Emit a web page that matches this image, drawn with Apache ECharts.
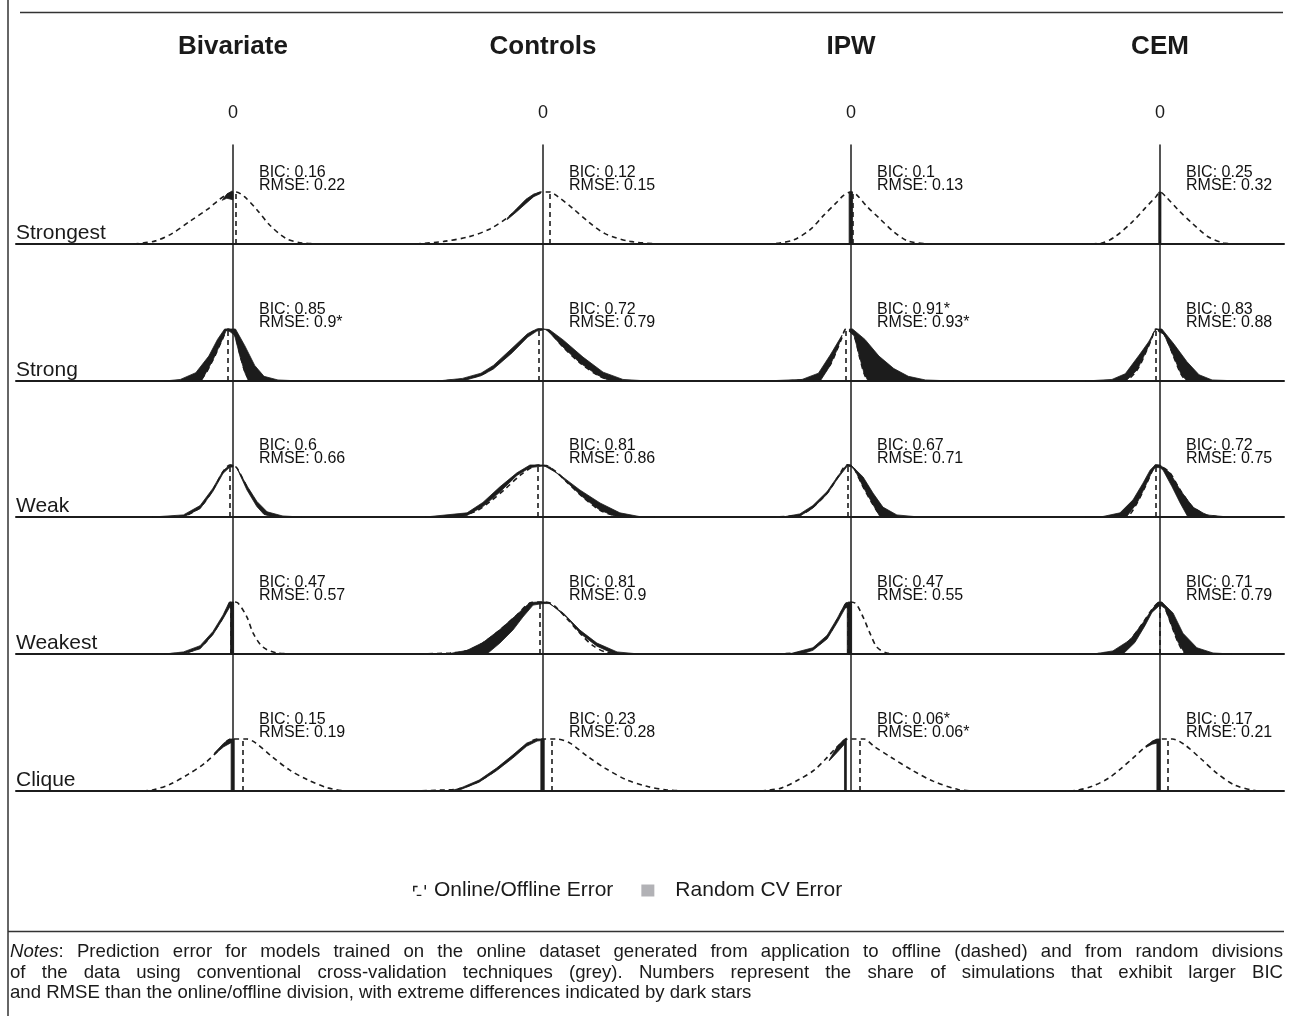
<!DOCTYPE html>
<html>
<head>
<meta charset="utf-8">
<script src="https://cdn.jsdelivr.net/npm/echarts@6/dist/echarts.min.js"></script>
<style>
  html, body { margin: 0; padding: 0; background: #fff; }
  #chart { width: 1294px; height: 1016px; }
</style>
</head>
<body>
<div id="chart"></div>
<script>
// panels: rows = tie strength, columns = estimation method
const methods = ['Bivariate', 'Controls', 'IPW', 'CEM'];
const strengths = ['Strongest', 'Strong', 'Weak', 'Weakest', 'Clique'];

const bicShare = [
    ['0.16', '0.12', '0.1', '0.25'],
    ['0.85', '0.72', '0.91*', '0.83'],
    ['0.6', '0.81', '0.67', '0.72'],
    ['0.47', '0.81', '0.47', '0.71'],
    ['0.15', '0.23', '0.06*', '0.17']
];
const rmseShare = [
    ['0.22', '0.15', '0.13', '0.32'],
    ['0.9*', '0.79', '0.93*', '0.88'],
    ['0.66', '0.86', '0.71', '0.75'],
    ['0.57', '0.9', '0.55', '0.79'],
    ['0.19', '0.28', '0.06*', '0.21']
];

// online/offline error density (dashed curve): [error, relative density]
const onlineCurves = [
    [
        [[-3.2, 0], [-2.5, 0.06], [-1.97, 0.2], [-1.36, 0.45], [-0.84, 0.66], [-0.45, 0.85], [-0.2, 0.95], [0.1, 1.0], [0.37, 0.91], [0.77, 0.66], [1.19, 0.36], [1.7, 0.11], [2.23, 0.02], [3.2, 0]],
        [[-4.1, 0], [-3.2, 0.05], [-2.39, 0.14], [-1.71, 0.29], [-1.07, 0.54], [-0.6, 0.79], [-0.27, 0.94], [-0.06, 1.0], [0.22, 1.0], [0.48, 0.91], [0.95, 0.69], [1.48, 0.42], [2.0, 0.2], [2.81, 0.05], [3.8, 0]],
        [[-2.7, 0], [-2.3, 0.02], [-1.84, 0.08], [-1.29, 0.29], [-0.9, 0.54], [-0.48, 0.79], [-0.23, 0.94], [0, 1.0], [0.19, 0.94], [0.52, 0.72], [0.94, 0.48], [1.39, 0.23], [1.87, 0.05], [2.6, 0]],
        [[-2.5, 0], [-1.87, 0.02], [-1.45, 0.14], [-0.9, 0.42], [-0.48, 0.69], [-0.13, 0.91], [0, 1.0], [0.19, 0.91], [0.58, 0.66], [1.0, 0.42], [1.55, 0.14], [2.06, 0.02], [2.6, 0]]
    ],
    [
        [[-1.3, 0], [-1.0, 0.05], [-0.65, 0.4], [-0.35, 0.79], [-0.16, 1.0], [0.05, 0.9], [0.23, 0.5], [0.39, 0.17], [0.55, 0.03], [0.8, 0]],
        [[-3.4, 0], [-2.6, 0.03], [-2.0, 0.12], [-1.6, 0.26], [-1.0, 0.58], [-0.5, 0.87], [-0.13, 1.0], [0.13, 0.98], [0.65, 0.65], [1.19, 0.35], [1.74, 0.12], [2.16, 0.02], [2.8, 0]],
        [[-2.6, 0], [-1.6, 0.02], [-0.97, 0.12], [-0.68, 0.3], [-0.45, 0.6], [-0.3, 0.82], [-0.16, 1.0], [0.1, 0.87], [0.26, 0.5], [0.42, 0.15], [0.55, 0.02], [0.9, 0]],
        [[-1.8, 0], [-1.1, 0.02], [-0.74, 0.21], [-0.42, 0.6], [-0.26, 0.83], [-0.13, 1.0], [0.13, 0.9], [0.42, 0.5], [0.68, 0.13], [0.87, 0.01], [1.2, 0]]
    ],
    [
        [[-2.6, 0], [-1.6, 0.02], [-1.06, 0.19], [-0.65, 0.52], [-0.32, 0.87], [-0.1, 1.0], [0.0, 0.99], [0.13, 0.94], [0.45, 0.58], [0.77, 0.27], [1.1, 0.08], [1.6, 0.01], [2.4, 0]],
        [[-3.8, 0], [-2.8, 0.02], [-2.2, 0.1], [-1.7, 0.3], [-1.2, 0.55], [-0.7, 0.82], [-0.35, 0.96], [-0.16, 1.0], [0.1, 0.99], [0.4, 0.88], [0.77, 0.67], [1.29, 0.38], [1.84, 0.13], [2.4, 0.02], [3.2, 0]],
        [[-2.6, 0], [-1.65, 0.04], [-1.23, 0.19], [-0.77, 0.46], [-0.42, 0.77], [-0.13, 1.0], [0.05, 0.97], [0.13, 0.9], [0.39, 0.58], [0.68, 0.27], [0.94, 0.05], [1.3, 0]],
        [[-1.8, 0], [-1.06, 0.02], [-0.74, 0.27], [-0.48, 0.58], [-0.26, 0.87], [-0.13, 1.0], [0.05, 0.97], [0.32, 0.85], [0.65, 0.52], [1.06, 0.19], [1.5, 0.04], [2.0, 0]]
    ],
    [
        [[-2.6, 0], [-1.6, 0.02], [-1.06, 0.13], [-0.65, 0.4], [-0.32, 0.71], [-0.1, 0.98], [0, 1.0], [0.16, 0.98], [0.45, 0.71], [0.65, 0.4], [0.97, 0.13], [1.42, 0.02], [2.2, 0]],
        [[-4.0, 0], [-3.0, 0.02], [-2.45, 0.06], [-1.94, 0.21], [-1.39, 0.46], [-0.84, 0.75], [-0.42, 0.98], [-0.1, 1.0], [0.23, 0.98], [0.77, 0.68], [1.19, 0.4], [1.61, 0.16], [2.06, 0.03], [2.8, 0]],
        [[-2.4, 0], [-1.6, 0.03], [-1.23, 0.1], [-0.77, 0.33], [-0.45, 0.65], [-0.19, 0.94], [-0.1, 1.0], [0.13, 0.98], [0.39, 0.71], [0.61, 0.4], [0.84, 0.13], [1.16, 0.02], [1.6, 0]],
        [[-2.4, 0], [-1.52, 0.04], [-0.97, 0.27], [-0.55, 0.6], [-0.23, 0.88], [0, 1.0], [0.16, 0.88], [0.39, 0.52], [0.58, 0.23], [0.81, 0.02], [1.2, 0]]
    ],
    [
        [[-3.2, 0], [-2.6, 0.02], [-2.03, 0.13], [-1.45, 0.32], [-0.9, 0.54], [-0.45, 0.79], [-0.16, 0.98], [0, 1.0], [0.45, 1.0], [0.74, 0.92], [1.26, 0.66], [1.81, 0.41], [2.39, 0.22], [3.06, 0.06], [3.6, 0]],
        [[-4.2, 0], [-3.2, 0.02], [-2.65, 0.05], [-2.06, 0.19], [-1.5, 0.41], [-0.98, 0.66], [-0.53, 0.89], [-0.19, 1.0], [0, 1.0], [0.45, 1.0], [0.87, 0.92], [1.45, 0.66], [2.0, 0.44], [2.68, 0.22], [3.35, 0.09], [4.0, 0.02], [4.7, 0]],
        [[-3.2, 0], [-2.77, 0.01], [-2.23, 0.06], [-1.68, 0.22], [-1.19, 0.4], [-0.81, 0.62], [-0.48, 0.83], [-0.19, 0.98], [0, 1.0], [0.42, 1.0], [0.74, 0.86], [1.29, 0.65], [1.97, 0.4], [2.65, 0.19], [3.45, 0.03], [4.0, 0]],
        [[-3.2, 0], [-2.74, 0.01], [-2.19, 0.09], [-1.65, 0.25], [-1.26, 0.43], [-0.84, 0.65], [-0.45, 0.86], [-0.1, 0.98], [0.1, 1.0], [0.4, 1.0], [0.77, 0.9], [1.32, 0.62], [1.84, 0.34], [2.39, 0.12], [3.06, 0.01], [3.5, 0]]
    ]
];

// online/offline mean error: [error, density at that point]
const onlineMean = [
    [[0.1, 1.0], [0.22, 1.0], [0.06, 1.0], [0, 1.0]],
    [[-0.16, 1.0], [-0.13, 1.0], [-0.16, 1.0], [-0.13, 1.0]],
    [[-0.1, 1.0], [-0.16, 1.0], [-0.1, 1.0], [-0.13, 1.0]],
    [[-0.06, 1.0], [-0.1, 1.0], [-0.1, 1.0], [0, 1.0]],
    [[0.32, 1.0], [0.29, 1.0], [0.29, 1.0], [0.26, 1.0]]
];

// random CV error: envelope of the simulated densities, outline of the left flank
const cvLeft = [
    [
        [[-0.35, 0.84], [-0.2, 0.96], [-0.03, 1.02], [0, 1.0], [0, 0.85], [-0.2, 0.88]],
        [[-1.15, 0.5], [-0.85, 0.68], [-0.55, 0.86], [-0.3, 0.96], [-0.08, 1.0], [-0.08, 0.97], [-0.3, 0.91], [-0.55, 0.78], [-0.85, 0.62], [-1.15, 0.47]],
        [[-0.06, 0], [-0.06, 1.0], [0.05, 1.0], [0.05, 0]],
        [[-0.04, 0], [-0.04, 1.0], [0.03, 1.0], [0.03, 0]]
    ],
    [
        [[-2.2, 0], [-1.7, 0.03], [-1.2, 0.16], [-0.78, 0.48], [-0.5, 0.8], [-0.27, 1.0], [-0.2, 1.0], [-0.22, 0.97], [-0.35, 0.79], [-0.65, 0.4], [-1.0, 0.02], [-1.3, 0]],
        [[-3.4, 0], [-2.6, 0.05], [-2.0, 0.15], [-1.6, 0.3], [-1.0, 0.63], [-0.5, 0.91], [-0.2, 1.0], [0, 1.0], [0, 0.98], [-0.2, 0.96], [-0.5, 0.84], [-1.0, 0.54], [-1.6, 0.23], [-2.0, 0.1], [-2.6, 0]],
        [[-2.8, 0], [-1.58, 0.03], [-1.05, 0.15], [-0.67, 0.5], [-0.42, 0.75], [-0.29, 0.88], [-0.33, 0.8], [-0.45, 0.6], [-0.68, 0.29], [-0.97, 0.02], [-1.2, 0]],
        [[-2.4, 0], [-1.55, 0.03], [-1.12, 0.14], [-0.67, 0.5], [-0.37, 0.75], [-0.2, 0.93], [-0.1, 1.0], [-0.2, 0.95], [-0.26, 0.83], [-0.42, 0.6], [-0.74, 0.21], [-1.1, 0]]
    ],
    [
        [[-2.6, 0], [-1.6, 0.04], [-1.06, 0.22], [-0.65, 0.55], [-0.32, 0.89], [-0.1, 1.0], [0, 1.0], [0, 0.96], [-0.1, 0.96], [-0.32, 0.84], [-0.65, 0.49], [-1.06, 0.16], [-1.6, 0]],
        [[-3.8, 0], [-2.45, 0.08], [-1.94, 0.28], [-1.39, 0.58], [-0.84, 0.85], [-0.42, 1.0], [0, 1.0], [0, 0.98], [-0.42, 0.95], [-0.84, 0.8], [-1.39, 0.48], [-1.94, 0.2], [-2.45, 0.03], [-3.0, 0]],
        [[-2.2, 0], [-1.65, 0.06], [-1.23, 0.22], [-0.77, 0.49], [-0.42, 0.79], [-0.13, 1.01], [0, 1.0], [0, 0.97], [-0.13, 0.97], [-0.42, 0.75], [-0.77, 0.44], [-1.23, 0.17], [-1.65, 0.02], [-1.9, 0]],
        [[-2.4, 0], [-1.84, 0.01], [-1.29, 0.08], [-0.87, 0.33], [-0.55, 0.65], [-0.32, 0.9], [-0.16, 1.0], [0, 1.0], [0, 0.95], [-0.15, 0.95], [-0.26, 0.87], [-0.48, 0.58], [-0.74, 0.27], [-1.06, 0.02], [-1.3, 0]]
    ],
    [
        [[-2.2, 0], [-1.6, 0.04], [-1.06, 0.16], [-0.65, 0.43], [-0.32, 0.75], [-0.12, 1.0], [0.02, 1.0], [0.02, 0], [-0.08, 0], [-0.08, 0.93], [-0.32, 0.68], [-0.65, 0.37], [-1.06, 0.1], [-1.6, 0]],
        [[-3.6, 0], [-3.0, 0.01], [-2.45, 0.07], [-1.94, 0.22], [-1.39, 0.47], [-0.84, 0.76], [-0.42, 0.99], [-0.16, 1.0], [0, 1.0], [0, 0.97], [-0.32, 0.94], [-0.65, 0.71], [-0.97, 0.46], [-1.39, 0.21], [-1.81, 0]],
        [[-2.0, 0], [-1.23, 0.12], [-0.77, 0.36], [-0.45, 0.68], [-0.19, 0.97], [-0.08, 1.0], [0.02, 1.0], [0.02, 0], [-0.12, 0], [-0.12, 0.9], [-0.19, 0.88], [-0.45, 0.6], [-0.77, 0.29], [-1.23, 0.07], [-1.6, 0]],
        [[-2.6, 0], [-2.03, 0.01], [-1.52, 0.06], [-0.97, 0.27], [-0.55, 0.6], [-0.23, 0.88], [-0.06, 1.0], [0, 1.0], [0, 0.94], [-0.26, 0.8], [-0.48, 0.55], [-0.81, 0.22], [-1.19, 0]]
    ],
    [
        [[-0.6, 0.73], [-0.3, 0.92], [-0.1, 1.0], [0.04, 1.0], [0.04, 0], [-0.06, 0], [-0.06, 0.93], [-0.3, 0.85], [-0.6, 0.7]],
        [[-3.0, 0], [-2.65, 0.06], [-2.06, 0.21], [-1.5, 0.44], [-0.98, 0.69], [-0.53, 0.92], [-0.19, 1.0], [0.04, 1.0], [0.04, 0], [-0.07, 0], [-0.07, 0.97], [-0.19, 0.96], [-0.53, 0.86], [-0.98, 0.63], [-1.5, 0.39], [-2.06, 0.17], [-2.65, 0.03]],
        [[-0.7, 0.6], [-0.45, 0.85], [-0.25, 0.98], [-0.15, 1.02], [-0.15, 0], [-0.21, 0], [-0.21, 0.9], [-0.45, 0.74], [-0.7, 0.58]],
        [[-0.45, 0.86], [-0.25, 0.96], [-0.1, 1.0], [0, 1.0], [0, 0], [-0.1, 0], [-0.1, 0.92], [-0.25, 0.9], [-0.45, 0.84]]
    ]
];

// random CV error: outline of the right flank (empty where none is drawn)
const cvRight = [
    [[], [], [], []],
    [
        [[-0.2, 1.0], [0.08, 1.0], [0.38, 0.68], [0.7, 0.3], [1.0, 0.09], [1.45, 0.02], [2.2, 0], [0.5, 0], [0.39, 0.15], [0.23, 0.46], [0.05, 0.88], [-0.1, 0.95], [-0.2, 0.97]],
        [[0, 1.0], [0.2, 0.99], [0.65, 0.79], [1.29, 0.46], [1.94, 0.17], [2.58, 0.03], [3.4, 0], [2.16, 0], [1.74, 0.12], [1.19, 0.35], [0.65, 0.65], [0.13, 0.98]],
        [[-0.05, 1.0], [0.05, 1.0], [0.45, 0.8], [0.9, 0.48], [1.38, 0.24], [1.85, 0.09], [2.4, 0.02], [3.3, 0], [0.55, 0], [0.42, 0.15], [0.26, 0.5], [0.1, 0.87], [-0.05, 0.95]],
        [[-0.05, 1.0], [0.06, 1.0], [0.45, 0.71], [0.87, 0.37], [1.26, 0.12], [1.68, 0.02], [2.6, 0], [0.87, 0], [0.68, 0.13], [0.42, 0.5], [0.13, 0.9], [-0.05, 0.95]]
    ],
    [
        [[0.13, 0.94], [0.45, 0.6], [0.77, 0.3], [1.1, 0.1], [1.6, 0.02], [2.2, 0], [1.3, 0], [1.0, 0.05], [0.77, 0.2], [0.45, 0.52], [0.16, 0.9]],
        [[0, 1.0], [0.55, 0.81], [1.19, 0.52], [1.84, 0.27], [2.48, 0.08], [3.1, 0.01], [3.6, 0], [2.4, 0], [1.84, 0.13], [1.29, 0.38], [0.77, 0.67], [0.23, 0.96], [0, 0.98]],
        [[0, 1.0], [0.39, 0.77], [0.71, 0.46], [1.03, 0.19], [1.48, 0.04], [2.2, 0], [0.94, 0], [0.68, 0.27], [0.39, 0.58], [0.13, 0.9], [0, 0.97]],
        [[0, 1.0], [0.32, 0.85], [0.65, 0.52], [1.06, 0.19], [1.5, 0.04], [2.2, 0], [0.9, 0], [0.65, 0.27], [0.39, 0.58], [0.1, 0.9], [0, 0.95]]
    ],
    [
        [],
        [[0, 1.0], [0.13, 1.0], [0.65, 0.79], [1.19, 0.46], [1.74, 0.21], [2.39, 0.04], [3.1, 0], [2.3, 0], [1.74, 0.15], [1.19, 0.4], [0.77, 0.7], [0.23, 0.97], [0, 0.97]],
        [],
        [[0, 1.0], [0.06, 1.0], [0.42, 0.79], [0.74, 0.4], [1.19, 0.12], [1.71, 0.02], [2.3, 0], [0.81, 0], [0.58, 0.23], [0.39, 0.52], [0.16, 0.88], [0, 0.94]]
    ],
    [[], [], [], []]
];

// page layout
const FONT = "'Liberation Sans', Arial, Helvetica, sans-serif";
const INK = '#1c1c1c';
const zeroX = [233, 543, 851, 1160];
const colRange = [[-7, 5], [-5, 5], [-5, 5], [-5, 4]];
const rowTop = [145, 244, 381, 517, 654];
const rowBase = [244, 381, 517, 654, 791];
const UNIT = 31;
const PEAK = 52;

const grids = [], xAxes = [], yAxes = [], series = [];

function cvPolygon(params, api) {
    if (params.dataIndexInside !== 0) return null;
    const pts = [];
    for (let i = 0; i < params.dataInsideLength; i++) {
        pts.push(api.coord([api.value(0, i), api.value(1, i)]));
    }
    return {
        type: 'polygon',
        shape: { points: pts },
        style: { fill: INK, stroke: INK, lineWidth: 0.8 }
    };
}

strengths.forEach((strength, r) => {
    methods.forEach((method, c) => {
        const g = r * 4 + c;
        const lo = colRange[c][0], hi = colRange[c][1];
        grids.push({
            left: zeroX[c] + lo * UNIT,
            top: rowTop[r],
            width: (hi - lo) * UNIT,
            height: rowBase[r] - rowTop[r],
            outerBoundsMode: 'none'
        });
        xAxes.push({
            gridIndex: g, type: 'value', min: lo, max: hi,
            axisLine: { show: true, onZero: true, lineStyle: { color: INK, width: 2 } },
            axisTick: { show: false }, axisLabel: { show: false }, splitLine: { show: false }
        });
        yAxes.push({
            gridIndex: g, type: 'value', min: 0, max: (rowBase[r] - rowTop[r]) / PEAK,
            axisLine: { show: true, onZero: true, lineStyle: { color: INK, width: 1.5 } },
            axisTick: { show: false }, axisLabel: { show: false }, splitLine: { show: false }
        });

        const m = onlineMean[r][c];
        series.push({
            name: 'Online/Offline Error',
            type: 'line',
            xAxisIndex: g, yAxisIndex: g,
            data: onlineCurves[r][c],
            smooth: 0.3,
            symbol: 'none',
            z: 2,
            lineStyle: { color: INK, width: 1.6, type: [5, 4] },
            itemStyle: { color: INK },
            markLine: {
                silent: true,
                symbol: ['none', 'none'],
                label: { show: false },
                lineStyle: { color: INK, width: 1.6, type: [5, 4] },
                data: [[{ coord: [m[0], 0] }, { coord: [m[0], m[1]] }]]
            }
        });
        [cvLeft[r][c], cvRight[r][c]].forEach((outline) => {
            if (!outline.length) return;
            series.push({
                name: 'Random CV Error',
                type: 'custom',
                xAxisIndex: g, yAxisIndex: g,
                data: outline,
                renderItem: cvPolygon,
                itemStyle: { color: INK },
                silent: true,
                z: 3
            });
        });
        series.push({
            name: 'share',
            type: 'scatter',
            xAxisIndex: g, yAxisIndex: g,
            data: [[26 / UNIT, 1.25]],
            symbolSize: 0,
            silent: true,
            itemStyle: { opacity: 1 },
            label: {
                show: true,
                position: 'right',
                distance: 0,
                formatter: 'BIC: ' + bicShare[r][c] + '\nRMSE: ' + rmseShare[r][c],
                fontFamily: FONT,
                fontSize: 16,
                lineHeight: 12.5,
                color: '#111',
                opacity: 1
            }
        });
    });
});

// the "0" above each column
methods.forEach((method, c) => {
    xAxes.push({
        gridIndex: c, type: 'value', position: 'top',
        min: colRange[c][0], max: colRange[c][1], interval: 1,
        axisLine: { show: false, onZero: false }, axisTick: { show: false }, splitLine: { show: false },
        axisLabel: {
            formatter: (v) => (v === 0 ? '0' : ''),
            fontFamily: FONT, fontSize: 18, color: '#1a1a1a', margin: 23
        }
    });
});

// notes text, spread across the full width like the printed page
const NOTE_SIZE = 18.6, NOTE_LEFT = 10, NOTE_RIGHT = 1283;
const noteLines = [
    'Notes: Prediction error for models trained on the online dataset generated from application to offline (dashed) and from random divisions',
    'of the data using conventional cross-validation techniques (grey). Numbers represent the share of simulations that exhibit larger BIC',
    'and RMSE than the online/offline division, with extreme differences indicated by dark stars'
];
const measure = document.createElement('canvas').getContext('2d');
function wordWidth(w) {
    if (w === 'Notes:') {
        measure.font = 'italic ' + NOTE_SIZE + 'px ' + FONT;
        const a = measure.measureText('Notes').width;
        measure.font = NOTE_SIZE + 'px ' + FONT;
        return a + measure.measureText(':').width;
    }
    measure.font = NOTE_SIZE + 'px ' + FONT;
    return measure.measureText(w).width;
}
function noteWords(text, y, justify) {
    const words = text.split(' ');
    const widths = words.map(wordWidth);
    const total = widths.reduce((a, b) => a + b, 0);
    measure.font = NOTE_SIZE + 'px ' + FONT;
    const space = justify ? (NOTE_RIGHT - NOTE_LEFT - total) / (words.length - 1) : measure.measureText(' ').width;
    let x = NOTE_LEFT;
    return words.map((w, i) => {
        const el = {
            type: 'text', x: x, y: y, silent: true,
            style: {
                text: w === 'Notes:' ? '{i|Notes}:' : w,
                fontFamily: FONT, fontSize: NOTE_SIZE, fill: '#1a1a1a',
                verticalAlign: 'middle', textVerticalAlign: 'middle',
                rich: { i: { fontStyle: 'italic', fontFamily: FONT, fontSize: NOTE_SIZE, fill: '#1a1a1a' } }
            }
        };
        x += widths[i] + space;
        return el;
    });
}

const graphics = [
    { type: 'line', silent: true, shape: { x1: 8, y1: 0, x2: 8, y2: 1016 }, style: { stroke: '#333', lineWidth: 1.5 } },
    { type: 'line', silent: true, shape: { x1: 20, y1: 12.5, x2: 1283, y2: 12.5 }, style: { stroke: '#333', lineWidth: 1.5 } },
    { type: 'line', silent: true, shape: { x1: 8, y1: 931.5, x2: 1284, y2: 931.5 }, style: { stroke: '#333', lineWidth: 1.5 } }
];
methods.forEach((method, c) => {
    graphics.push({
        type: 'text', x: zeroX[c], y: 47, silent: true,
        style: {
            text: method, fontFamily: FONT, fontSize: 26, fontWeight: 'bold', fill: '#1a1a1a',
            align: 'center', textAlign: 'center', verticalAlign: 'middle', textVerticalAlign: 'middle'
        }
    });
});
strengths.forEach((strength, r) => {
    graphics.push({
        type: 'text', x: 16, y: rowBase[r] - 11, silent: true,
        style: {
            text: strength, fontFamily: FONT, fontSize: 21, fill: '#1a1a1a',
            verticalAlign: 'middle', textVerticalAlign: 'middle'
        }
    });
});
noteLines.forEach((line, i) => {
    noteWords(line, 952 + i * 20.5, i < 2).forEach((el) => graphics.push(el));
});

const chart = echarts.init(document.getElementById('chart'), null, { renderer: 'canvas' });
chart.setOption({
    backgroundColor: '#fff',
    animation: false,
    textStyle: { fontFamily: FONT },
    grid: grids,
    xAxis: xAxes,
    yAxis: yAxes,
    legend: {
        left: 408,
        top: 875,
        itemWidth: 13,
        itemHeight: 12,
        itemGap: 28,
        selectedMode: false,
        textStyle: { fontFamily: FONT, fontSize: 21, color: '#1a1a1a' },
        data: [
            {
                name: 'Online/Offline Error',
                icon: 'path://M0,1 L5,1 L5,2.5 L1.6,2.5 L1.6,7 L0,7 Z M4,10.5 L9,10.5 L9,12 L4,12 Z M12.4,0 L14,0 L14,5 L12.4,5 Z',
                itemStyle: { color: '#222' },
                textStyle: { padding: [0, 0, 0, 3] }
            },
            {
                name: 'Random CV Error',
                icon: 'rect',
                itemStyle: { color: '#b2b2b6' },
                textStyle: { padding: [0, 0, 0, 16] }
            }
        ]
    },
    graphic: graphics,
    series: series
});
</script>
</body>
</html>
